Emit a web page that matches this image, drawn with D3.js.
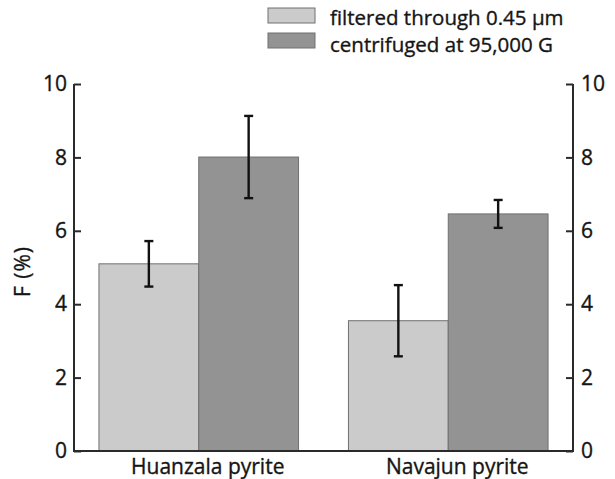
<!DOCTYPE html>
<html><head><meta charset="utf-8">
<script src="https://cdn.jsdelivr.net/npm/d3@7"></script>
<style>body{margin:0;background:#fff}text{font-family:"Open Sans",sans-serif;fill:#151515;stroke:#151515;stroke-width:0.35px}</style>
</head><body><svg id="c" width="615" height="479"></svg>
<script>
const categories = ["Huanzala pyrite", "Navajun pyrite"];
const seriesNames = ["filtered through 0.45 \u03bcm", "centrifuged at 95,000 G"];
const filteredValues = [5.1, 3.55];
const filteredErrors = [0.62, 0.97];
const centrifugedValues = [8.01, 6.46];
const centrifugedErrors = [1.12, 0.38];
const yTicks = [0, 2, 4, 6, 8, 10];
const colors = ["#cbcbcb", "#939393"];

const svg = d3.select("#c");
const L = 74, R = 573, T = 84, B = 451;
const x = d3.scaleBand().domain(categories).range([L, R]).paddingInner(0.2).paddingOuter(0.1);
const xs = d3.scaleBand().domain([0, 1]).range([0, x.bandwidth()]);
const y = d3.scaleLinear().domain([0, 10]).range([B, T]);

const series = [
  {name: seriesNames[0], values: filteredValues, errors: filteredErrors},
  {name: seriesNames[1], values: centrifugedValues, errors: centrifugedErrors}
];

series.forEach((s, si) => {
  const g = svg.append("g");
  g.selectAll("rect").data(categories).join("rect")
    .attr("x", c => x(c) + xs(si))
    .attr("y", (c, i) => y(s.values[i]))
    .attr("width", xs.bandwidth())
    .attr("height", (c, i) => y(0) - y(s.values[i]))
    .attr("fill", colors[si]).attr("stroke", "#707070").attr("stroke-width", 1);
  categories.forEach((c, i) => {
    const cx = x(c) + xs(si) + xs.bandwidth() / 2;
    const hi = y(s.values[i] + s.errors[i]), lo = y(s.values[i] - s.errors[i]);
    g.append("line").attr("x1", cx).attr("x2", cx).attr("y1", hi).attr("y2", lo)
      .attr("stroke", "#111").attr("stroke-width", 2.4);
    [hi, lo].forEach(yy => g.append("line").attr("x1", cx - 4.5).attr("x2", cx + 4.5)
      .attr("y1", yy).attr("y2", yy).attr("stroke", "#111").attr("stroke-width", 2.4));
  });
});

const leftAxis = d3.axisLeft(y).tickValues(yTicks).tickSizeInner(-7).tickSizeOuter(0).tickPadding(7);
const gl = svg.append("g").attr("transform", `translate(${L},0)`).call(leftAxis);
const rightAxis = d3.axisRight(y).tickValues(yTicks).tickSizeInner(-7).tickSizeOuter(0).tickPadding(8);
const gr = svg.append("g").attr("transform", `translate(${R},0)`).call(rightAxis);
[gl, gr].forEach(g => {
  g.select("path.domain").remove();
  g.append("line").attr("x1", 0).attr("x2", 0).attr("y1", y(0)).attr("y2", y(10));
  g.selectAll("line").attr("stroke", "#2a2a2a").attr("stroke-width", 2);
  g.selectAll("text").attr("font-size", 21).attr("font-family", "Open Sans").attr("fill", "#151515");
});

svg.append("line").attr("x1", L - 1).attr("x2", R + 1).attr("y1", y(0)).attr("y2", y(0))
  .attr("stroke", "#2a2a2a").attr("stroke-width", 2);

svg.selectAll("text.cat").data(categories).join("text").attr("class", "cat")
  .attr("x", c => x(c) + x.bandwidth() / 2 + 9).attr("y", 474)
  .attr("text-anchor", "middle").attr("font-size", 21).text(c => c);

svg.append("text").attr("transform", `translate(30,${(T + B) / 2 + 4}) rotate(-90)`)
  .attr("text-anchor", "middle").attr("font-size", 21).attr("letter-spacing", 1).text("F (%)");

const lg = svg.append("g");
seriesNames.forEach((n, i) => {
  lg.append("rect").attr("x", 268).attr("y", 8 + i * 25).attr("width", 47).attr("height", 15)
    .attr("fill", colors[i]).attr("stroke", "#707070").attr("stroke-width", 1);
  lg.append("text").attr("x", 330).attr("y", 25 + i * 27).attr("font-size", 20.5).text(n);
});
</script></body></html>
